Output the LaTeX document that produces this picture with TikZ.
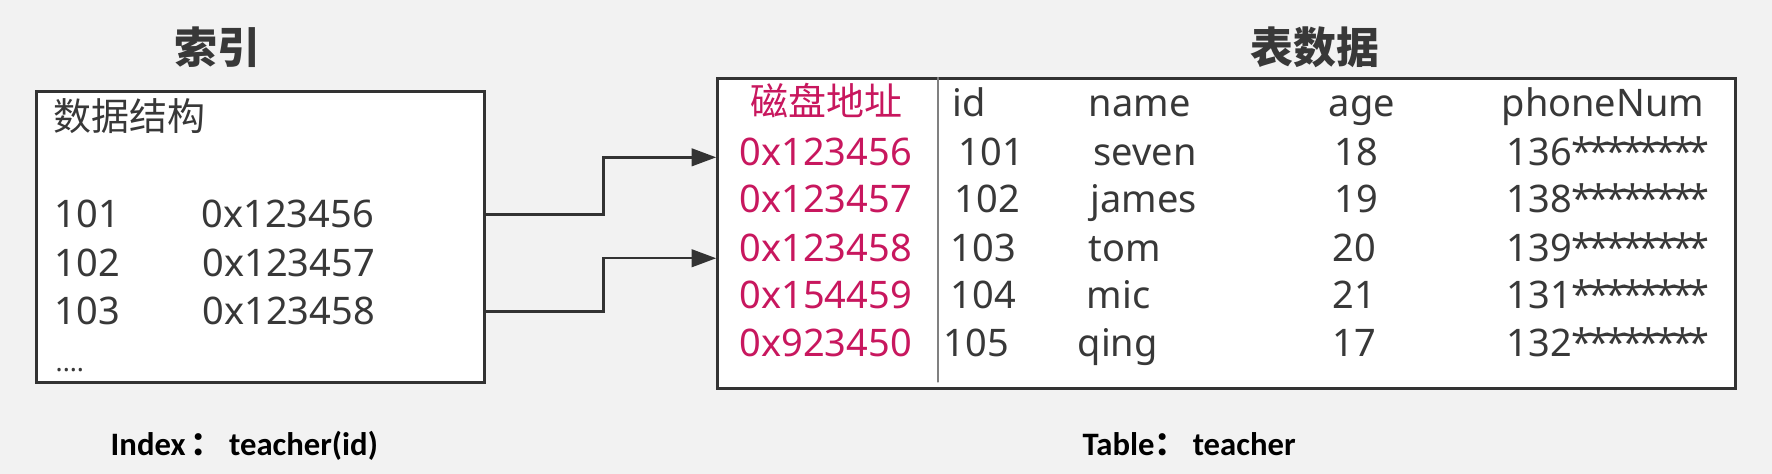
\documentclass[tikz,border=0pt]{standalone}
\usepackage{fontspec}
\setmainfont{Noto Sans}
\newfontfamily\cjk{Noto Sans CJK SC}
\newfontfamily\capfont{Carlito}
\usetikzlibrary{arrows.meta}

\definecolor{bggray}{HTML}{F2F2F2}
\definecolor{inkgray}{HTML}{383838}
\definecolor{boxgray}{HTML}{333333}
\definecolor{addrred}{HTML}{C8175E}
\newcommand\stars{*\kern-1.2pt*\kern-1.2pt*\kern-1.2pt*\kern-1.2pt*\kern-1.2pt*\kern-1.2pt*\kern-1.2pt*}

\begin{document}
\begin{tikzpicture}[x=0.01cm, y=-0.01cm, line cap=round,
  txt/.style={anchor=base west, inner sep=0pt, text=inkgray, font=\fontsize{10.8}{13}\selectfont},
  addr/.style={txt, text=addrred},
  title/.style={inner sep=0pt, text=inkgray, font=\fontsize{12.2}{14}\selectfont\cjk\bfseries},
  caption/.style={anchor=base west, inner sep=0pt, text=black, font=\fontsize{9.3}{11}\selectfont\capfont\bfseries},
  panel/.style={draw=boxgray, line width=0.85pt, fill=white, inner sep=0pt},
  link/.style={draw=boxgray, line width=0.7pt, -{Triangle[length=7pt, width=5pt]}}]
  \fill[bggray] (0,0) rectangle (1772,474);
  \useasboundingbox (0,0) rectangle (1772,474);

  % the two boxes
  \node[panel, minimum width=4.47cm, minimum height=2.90cm] (idx) at (260.5,237) {};
  \node[panel, minimum width=10.17cm, minimum height=3.09cm] (tbl) at (1226.5,233.5) {};
  \draw[gray, line width=0.3pt] (tbl.north -| 938,0) -- (938,382);

  % titles
  \node[title] (idxtitle) at (217,47) {索引};
  \node[title] (tbltitle) at (1315,47) {表数据};

  % index content
  \node[txt, font=\fontsize{10.8}{13}\selectfont\cjk] (ds) at (53,131) {数据结构};
  \node[txt] (k101) at (54,228) {101};
  \node[txt] (k102) at (54,277) {102};
  \node[txt] (k103) at (54,325) {103};
  \node[txt] (p101) at (201,228) {0x123456};
  \node[txt] (p102) at (202,277) {0x123457};
  \node[txt] (p103) at (202,325) {0x123458};
  \node[txt, font=\fontsize{7.5}{8}\selectfont] (more) at (55,372) {....};

  % table header
  \node[addr, font=\fontsize{10.8}{13}\selectfont\cjk] (hdisk) at (750,116) {磁盘地址};
  \node[txt] (hid) at (952,117) {id};
  \node[txt] (hname) at (1088,117) {name};
  \node[txt] (hage) at (1328,117) {age};
  \node[txt] (hphone) at (1501,117) {phoneNum};

  % table rows
  \node[addr] (t1) at (739,166) {0x123456};
  \node[addr] (t2) at (739,213) {0x123457};
  \node[addr] (t3) at (739,262) {0x123458};
  \node[addr] (t4) at (739,309) {0x154459};
  \node[addr] (t5) at (739,357) {0x923450};
  \foreach \r/\y/\xi/\id/\xn/\nm/\xa/\ag/\ph in {
    1/166/958/101/1093/seven/1334/18/136,
    2/213/954/102/1090/james/1334/19/138,
    3/262/950/103/1088/tom/1332/20/139,
    4/309/950/104/1086/mic/1332/21/131,
    5/357/943/105/1077/qing/1332/17/132}{
    \node[txt] (id\r) at (\xi,\y) {\id};
    \node[txt] (nm\r) at (\xn,\y) {\nm};
    \node[txt] (ag\r) at (\xa,\y) {\ag};
    \node[txt] (ph\r) at (1506,\y) {\ph\stars};
  }

  % pointers from index to rows
  \draw[link] (k101 -| idx.east) -- ++(118,0) |- ([yshift=-1.4pt]t1 -| tbl.west);
  \draw[link] (k103 -| idx.east) -- ++(118,0) |- ([yshift=-2.8pt]t3 -| tbl.west);

  % captions
  \node[caption] (idxcap) at (110,456) {Index\,{\cjk\bfseries ：}\,teacher(id)};
  \node[caption] (tblcap) at (1082,456) {Table{\cjk\bfseries ：}\,teacher};
\end{tikzpicture}
\end{document}
